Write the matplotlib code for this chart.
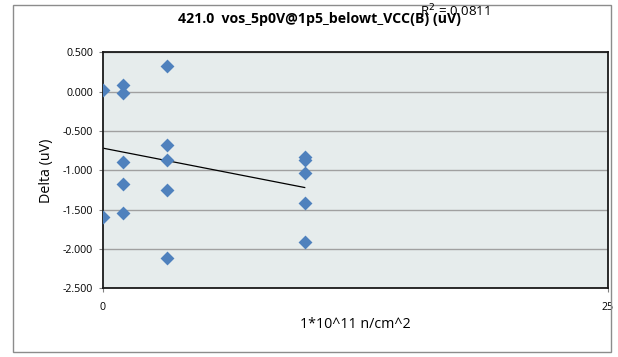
import numpy as np
import matplotlib
matplotlib.use("Agg")
import matplotlib.pyplot as plt
from matplotlib.patches import Rectangle

plt.rcParams["font.family"] = ["Open Sans", "DejaVu Sans"]

# fluence groups (x) and measured delta (y)
x_vals = [0, 0,
          1, 1, 1, 1, 1,
          3.2, 3.2, 3.2, 3.2, 3.2,
          10, 10, 10, 10, 10]
y_vals = [0.02, -1.59,
          0.08, -0.02, -0.89, -1.17, -1.54,
          0.33, -0.68, -0.87, -1.25, -2.11,
          -0.83, -0.87, -1.04, -1.41, -1.91]
y_ticks = [0.5, 0.0, -0.5, -1.0, -1.5, -2.0, -2.5]
x_ticks = [0, 25]
title = "421.0  vos_5p0V@1p5_belowt_VCC(B) (uV)"
r2_text = "R$^2$ = 0.0811"

fig = plt.figure(figsize=(6.18, 3.57), dpi=100)
fig.patch.set_facecolor("white")
# chart border
fig.patches.append(Rectangle((13/618, 5/357), 598/618, 347/357, transform=fig.transFigure,
                             fill=False, edgecolor="#8C8C8C", linewidth=1.0))

ax = fig.add_axes([102.7/618, 1 - 288.3/357, 505/618, 235.9/357])
ax.set_facecolor("#E6ECEC")
ax.scatter(x_vals, y_vals, marker="D", s=50, color="#4F81BD", zorder=3, linewidths=0)

# linear trendline over the data range
k, b = np.polyfit(x_vals, y_vals, 1)
xs = np.array([min(x_vals), max(x_vals)])
ax.plot(xs, k * xs + b, color="black", linewidth=0.9, zorder=2)

ax.set_xlim(0, 25)
ax.set_ylim(-2.5, 0.5)
ax.set_yticks(y_ticks)
ax.set_yticklabels(["%.3f" % v for v in y_ticks])
ax.set_xticks(x_ticks)
ax.grid(axis="y", color="#A0A0A0", linewidth=1.0)
ax.set_axisbelow(True)
for s in ax.spines.values():
    s.set_color("#1A1A1A")
    s.set_linewidth(1.3)
ax.tick_params(axis="both", labelsize=7.7, length=3, color="#808080", pad=4)
ax.tick_params(axis="x", pad=7)

ax.set_ylabel("Delta (uV)", fontsize=10.3, labelpad=6)
ax.set_xlabel("1*10^11 n/cm^2", fontsize=10.3, labelpad=3)

fig.text(319/618, 1 - 19/357, title, ha="center", va="center", fontsize=10.2, fontweight="bold")
fig.text(455/618, 1 - 11/357, r2_text, ha="center", va="center", fontsize=9.6)

fig.savefig("out.png", dpi=100)
